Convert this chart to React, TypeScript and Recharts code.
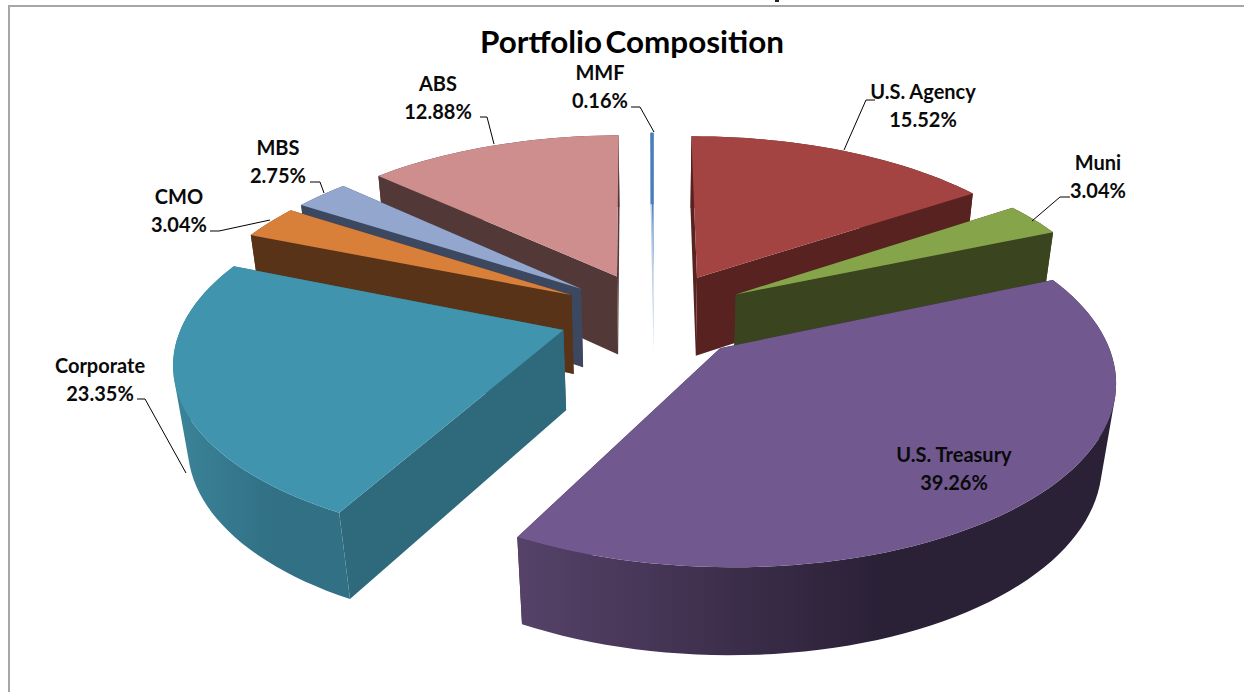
import { PieChart, Pie } from 'recharts';

const sliceNames = ['U.S. Agency', 'Muni', 'U.S. Treasury', 'Corporate', 'CMO', 'MBS', 'ABS', 'MMF'];
const sliceShares = [15.52, 3.04, 39.26, 23.35, 3.04, 2.75, 12.88, 0.16];
const chartData = sliceNames.map((name, i) => ({ name, value: sliceShares[i] }));

// painter's order, back of the pie first
const drawOrder = ['MMF', 'U.S. Agency', 'ABS', 'Muni', 'MBS', 'CMO', 'Corporate', 'U.S. Treasury'];

const colors: Record<string, { top: string; wall: string; rimFrom: string; rimTo: string }> = {
  'U.S. Agency': { top: '#A44442', wall: '#582220', rimFrom: '#582220', rimTo: '#582220' },
  Muni: { top: '#86A44A', wall: '#3A441F', rimFrom: '#3A441F', rimTo: '#3A441F' },
  'U.S. Treasury': { top: '#71588F', wall: '#2F2440', rimFrom: '#564269', rimTo: '#2B2137' },
  Corporate: { top: '#4194AE', wall: '#2E6A7B', rimFrom: '#3B8499', rimTo: '#317085' },
  CMO: { top: '#D88039', wall: '#583317', rimFrom: '#583317', rimTo: '#583317' },
  MBS: { top: '#92A6CE', wall: '#3C4760', rimFrom: '#3C4760', rimTo: '#3C4760' },
  ABS: { top: '#CF8E8E', wall: '#533838', rimFrom: '#533838', rimTo: '#533838' },
  MMF: { top: '#4A7EBB', wall: '#B9CDE5', rimFrom: '#4A7EBB', rimTo: '#4A7EBB' },
};

// hand placed data labels, as in the Excel original
const labelLayout: Record<string, { x: number; y: number; line?: number[][] }> = {
  'U.S. Agency': { x: 923, y: 99, line: [[875, 100], [866, 100], [844, 150]] },
  Muni: { x: 1098, y: 170, line: [[1070, 197], [1060, 197], [1032, 221]] },
  'U.S. Treasury': { x: 954, y: 462 },
  Corporate: { x: 100, y: 373, line: [[137, 399], [145, 399], [186, 473]] },
  CMO: { x: 179, y: 204, line: [[210, 231], [219, 231], [270, 220]] },
  MBS: { x: 278, y: 155, line: [[310, 182], [320, 182], [324, 193]] },
  ABS: { x: 438, y: 91, line: [[480, 117], [487, 117], [494, 144]] },
  MMF: { x: 600, y: 80, line: [[631, 107], [640, 107], [654, 132]] },
};

const EXPLODE = 95;
const TILT = 0.46;
const DEPTH = 82;
const PERSP = 0.000409;
const DEPTH_PERSP = 0.03;

const toPath = (pts: number[][]) => 'M' + pts.map((p) => `${p[0].toFixed(1)},${p[1].toFixed(1)}`).join('L') + 'Z';

// every rim quad wound the same way so the silhouette fills solid at the tangents
const quadPath = (a: number[], b: number[], c: number[], d: number[]) => {
  const pts = [a, b, c, d];
  const area = pts.reduce((sum, p, i) => {
    const q = pts[(i + 1) % 4];
    return sum + p[0] * q[1] - q[0] * p[1];
  }, 0);
  return toPath(area < 0 ? pts.slice().reverse() : pts);
};

function Slice3D(props: any) {
  const { cx, cy, outerRadius, startAngle, endAngle } = props;
  const name = props.name ?? props.payload?.name;
  const style = colors[name];

  // recharts angles are counter clockwise from 3 o'clock
  const rad = (a: number) => (a * Math.PI) / 180;
  const midAngle = rad((startAngle + endAngle) / 2);
  const du = EXPLODE * Math.cos(midAngle);
  const dv = -EXPLODE * Math.sin(midAngle);

  const project = (u: number, v: number, h: number) => {
    const s = 1 / (1 - PERSP * v + DEPTH_PERSP * h);
    return [cx + u * s, cy + (TILT * v + DEPTH * h) * s];
  };
  const atEdge = (a: number, h: number) =>
    project(du + outerRadius * Math.cos(rad(a)), dv - outerRadius * Math.sin(rad(a)), h);
  const apex = (h: number) => project(du, dv, h);

  const steps = Math.max(2, Math.ceil(Math.abs(endAngle - startAngle) / 2));
  const angles = Array.from({ length: steps + 1 }, (_, i) => startAngle + ((endAngle - startAngle) * i) / steps);
  const arcTop = angles.map((a) => atEdge(a, 0));
  const arcBottom = angles.map((a) => atEdge(a, 1));
  const xs = arcTop.map((p) => p[0]);
  const gradId = `rim-${name.replace(/[^A-Za-z]/g, '')}`;
  const rim = arcTop
    .slice(0, -1)
    .map((p, i) => quadPath(p, arcTop[i + 1], arcBottom[i + 1], arcBottom[i]))
    .join('');

  return (
    <g>
      <defs>
        <linearGradient id={gradId} gradientUnits="userSpaceOnUse" x1={Math.min(...xs)} y1={0} x2={Math.max(...xs)} y2={0}>
          <stop offset="0%" stopColor={style.rimFrom} />
          <stop offset="60%" stopColor={style.rimTo} />
          <stop offset="100%" stopColor={style.rimTo} />
        </linearGradient>
      </defs>
      <path d={toPath([apex(0), atEdge(startAngle, 0), atEdge(startAngle, 1), apex(1)])} fill={style.wall} />
      <path d={toPath([apex(0), atEdge(endAngle, 0), atEdge(endAngle, 1), apex(1)])} fill={style.wall} />
      <path d={rim} fill={`url(#${gradId})`} />
      <path d={toPath([apex(0), ...arcTop])} fill={style.top} />
    </g>
  );
}

function renderLabel(props: any) {
  const name = props.name ?? props.payload?.name;
  const pos = labelLayout[name];
  return (
    <g key={name}>
      {pos.line && <polyline points={pos.line.map((p) => p.join(',')).join(' ')} fill="none" stroke="#000" strokeWidth={1} />}
      <text x={pos.x} y={pos.y} textAnchor="middle" fontFamily="Lato" fontWeight={700} fontSize={20} fill="#0a0a0a">
        {name}
      </text>
      <text x={pos.x} y={pos.y + 28} textAnchor="middle" fontFamily="Lato" fontWeight={700} fontSize={20} fill="#0a0a0a">
        {props.value.toFixed(2)}%
      </text>
    </g>
  );
}

export default function App() {
  return (
    <div style={{ position: 'absolute', left: 0, top: 0, width: 1244, height: 692, overflow: 'hidden', background: '#fff' }}>
      <div style={{ position: 'absolute', left: 8, top: 5, width: 1244, height: 700, borderLeft: '2px solid #A6A6A6', borderTop: '2px solid #A6A6A6' }} />
      {/* speck left over from a cropped line of text above the frame */}
      <div style={{ position: 'absolute', left: 775, top: 0, width: 4, height: 2, background: '#222' }} />
      <PieChart width={1244} height={692} margin={{ top: 0, right: 0, bottom: 0, left: 0 }}>
        <text x={632} y={53} textAnchor="middle" fontFamily="Lato" fontWeight={700} fontSize={31.4} wordSpacing={-4} fill="#000">
          Portfolio Composition
        </text>
        {drawOrder.map((layer) => (
          <Pie
            key={layer}
            data={chartData}
            dataKey="value"
            nameKey="name"
            cx={654}
            cy={315}
            outerRadius={378}
            startAngle={90}
            endAngle={-270}
            stroke="none"
            isAnimationActive={false}
            labelLine={false}
            label={false}
            shape={(p: any) => ((p.name ?? p.payload?.name) === layer ? <Slice3D {...p} /> : <g />)}
          />
        ))}
        {/* labels go on top of everything */}
        <Pie
          data={chartData}
          dataKey="value"
          nameKey="name"
          cx={654}
          cy={315}
          outerRadius={378}
          startAngle={90}
          endAngle={-270}
          isAnimationActive={false}
          labelLine={false}
          label={renderLabel}
          shape={() => <g />}
        />
      </PieChart>
    </div>
  );
}
